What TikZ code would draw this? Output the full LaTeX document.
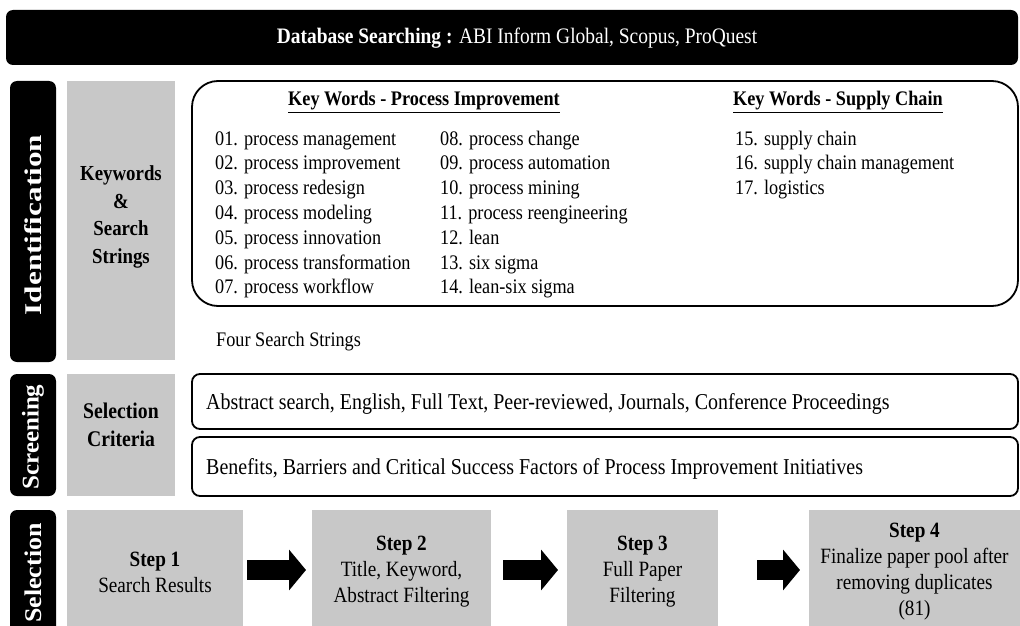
\documentclass[tikz,border=0pt]{standalone}
\usepackage{fontspec}
\usepackage{graphicx}
\setmainfont{Liberation Serif}[FakeStretch=0.88]
\newfontfamily\sidefont{Liberation Serif}
\usetikzlibrary{arrows.meta,calc}
\definecolor{panelgray}{HTML}{C8C8C8}
\newcommand{\sidetext}[2]{\scalebox{#1}[1]{#2}}
\tikzset{
  blackbar/.style={fill=black, rounded corners=7pt, inner sep=0pt, outer sep=0pt},
  sidelabel/.style={text=white, rotate=90, inner sep=0pt, font=\sidefont\fontsize{24}{28}\bfseries\selectfont},
  graypanel/.style={fill=panelgray, inner sep=0pt, outer sep=0pt},
  roundframe/.style={draw=black, line width=1.8pt, fill=white, inner sep=0pt, outer sep=0pt},
  kw/.style={anchor=base west, inner sep=0pt, font=\fontsize{20.7}{24}\selectfont},
  kwhead/.style={inner sep=0pt, font=\fontsize{20.7}{24}\bfseries\selectfont},
  crit/.style={anchor=base west, inner sep=0pt, font=\fontsize{22.7}{26}\selectfont},
  steptext/.style={align=center, inner sep=0pt, font=\fontsize{21.8}{26}\selectfont},
  steparrow/.style={line width=20pt, -{Triangle[length=17pt,width=40pt]}},
}
\begin{document}
\begin{tikzpicture}[x=1pt,y=-1pt]
\useasboundingbox (0,0) rectangle (1020,626);

% database banner
\path[blackbar] (6,10) rectangle (1018,65);
\node[text=white, font=\fontsize{22.1}{26}\selectfont] (db) at (517,38)
  {\textbf{Database Searching :} ABI Inform Global, Scopus, ProQuest};

% ---------------- identification
\path[blackbar] (10,81) rectangle (56,362);
\node[sidelabel] (ident) at (33,225) {\sidetext{1.3}{Identification}};
\path[graypanel] (67,81) rectangle (175,360);
\node[steptext, font=\fontsize{21.4}{27.5}\bfseries\selectfont] (kwlabel) at (121,217)
  {Keywords\\\&\\Search\\Strings};

\draw[roundframe, rounded corners=26pt] (192,81) rectangle (1018,306);
\node[kwhead, anchor=base] (h1) at (424,106)
  {\underline{Key Words - Process Improvement}};
\node[kwhead, anchor=base west] (h2) at (733,106)
  {\underline{Key Words - Supply Chain}};

\foreach \t [count=\i from 0] in {01. process management, 02. process improvement,
  03. process redesign, 04. process modeling, 05. process innovation,
  06. process transformation, 07. process workflow}
  \node[kw] (ka\i) at (215,{145+24.8*\i}) {\t};
\foreach \t [count=\i from 0] in {08. process change, 09. process automation,
  10. process mining, 11. process reengineering, 12. lean, 13. six sigma,
  14. lean-six sigma}
  \node[kw] (kb\i) at (440,{145+24.8*\i}) {\t};
\foreach \t [count=\i from 0] in {15. supply chain, 16. supply chain management,
  17. logistics}
  \node[kw] (kc\i) at (735,{145+24.8*\i}) {\t};

\node[kw] (four) at (216,346) {Four Search Strings};

% ---------------- screening
\path[blackbar] (10,374) rectangle (56,496);
\node[sidelabel] (screen) at (33,437) {\sidetext{1.04}{Screening}};
\path[graypanel] (67,374) rectangle (175,496);
\node[steptext, font=\fontsize{22.4}{28}\bfseries\selectfont] (critlabel) at (121,425)
  {Selection\\Criteria};

\draw[roundframe, rounded corners=8pt] (192,374) rectangle (1018,429);
\node[crit] (crit1) at (206,409)
  {Abstract search, English, Full Text, Peer-reviewed, Journals, Conference Proceedings};
\draw[roundframe, rounded corners=8pt] (192,437) rectangle (1018,496);
\node[crit] (crit2) at (206,474)
  {Benefits, Barriers and Critical Success Factors of Process Improvement Initiatives};

% ---------------- selection
\path[blackbar] (10,510) rectangle (56,640);
\node[sidelabel] (select) at (33,573) {\sidetext{1.08}{Selection}};

\node[graypanel, minimum width=176pt, minimum height=116pt] (s1) at (155,568) {};
\node[graypanel, minimum width=179pt, minimum height=116pt] (s2) at (401.5,568) {};
\node[graypanel, minimum width=151pt, minimum height=116pt] (s3) at (642.5,568) {};
\node[graypanel, minimum width=211pt, minimum height=116pt] (s4) at (914.5,568) {};

\node[steptext] (t1) at ([yshift=-4pt]s1.center) {\textbf{Step 1}\\Search Results};
\node[steptext] (t2) at ([yshift=-4pt]s2.center) {\textbf{Step 2}\\Title, Keyword,\\Abstract Filtering};
\node[steptext] (t3) at ([yshift=-4pt]s3.center) {\textbf{Step 3}\\Full Paper\\Filtering};
\node[steptext] (t4) at ([yshift=-4pt]s4.center) {\textbf{Step 4}\\Finalize paper pool after\\removing duplicates\\(81)};

\draw[steparrow] ([xshift=4pt,yshift=-2pt]s1.east) -- ([xshift=-6pt,yshift=-2pt]s2.west);
\draw[steparrow] ([xshift=12pt,yshift=-2pt]s2.east) -- ([xshift=-9pt,yshift=-2pt]s3.west);
\draw[steparrow] ([xshift=39pt,yshift=-2pt]s3.east) -- ([xshift=-9pt,yshift=-2pt]s4.west);
\end{tikzpicture}
\end{document}
